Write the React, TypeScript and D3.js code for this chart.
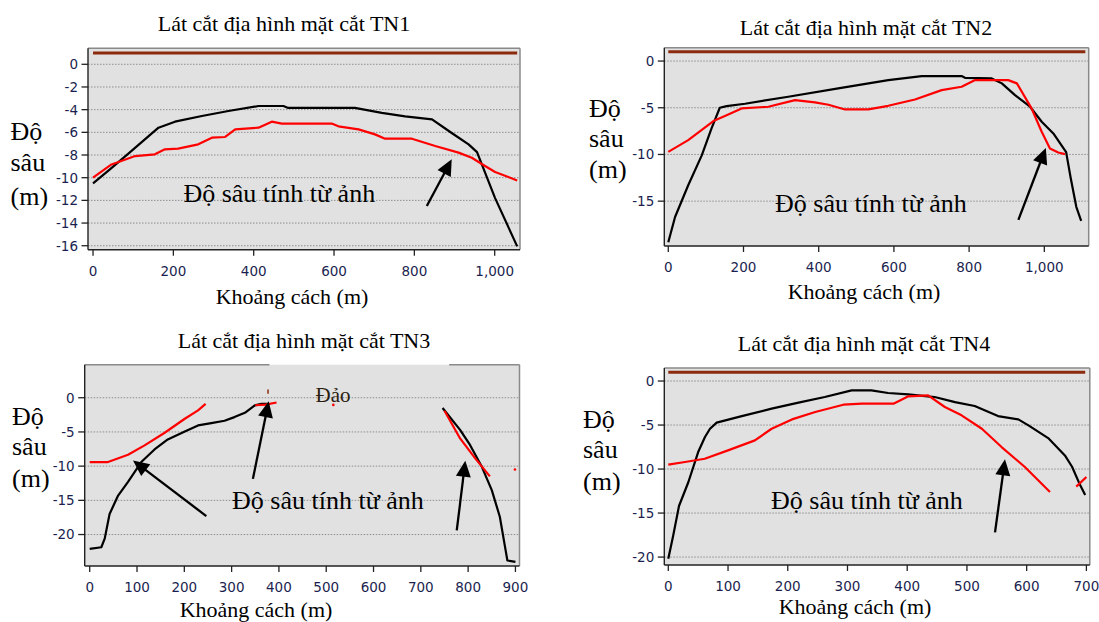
import React from 'react';
import * as d3 from 'd3';

type P = [number, number];

// ---------- TN1 ----------
const tn1XTicks = [0, 200, 400, 600, 800, 1000];
const tn1YTicks = [0, -2, -4, -6, -8, -10, -12, -14, -16];
const tn1Measured: P[] = [[0,-10.5],[42,-9.27],[88,-7.88],[163,-5.59],[204,-5.06],[271,-4.56],[337,-4.12],[412,-3.68],[474,-3.68],[486,-3.85],[652,-3.85],[719,-4.29],[777,-4.59],[844,-4.85],[893,-6.06],[935,-7.06],[956,-7.75],[1001,-11.8],[1056,-16.06]];
const tn1Image: P[] = [[0,-10.0],[46,-8.83],[105,-8.09],[154,-7.94],[179,-7.5],[212,-7.44],[262,-7.06],[296,-6.47],[329,-6.41],[354,-5.74],[412,-5.59],[445,-5.06],[470,-5.23],[594,-5.23],[611,-5.47],[661,-5.74],[702,-6.18],[727,-6.56],[794,-6.56],[852,-7.2],[910,-7.79],[943,-8.24],[976,-8.97],[1001,-9.5],[1056,-10.24]];
const tn1Surface: P[] = [[0, 1], [1056, 1]];
const tn1Arrows: [P, P][] = [[[831, -12.5], [893, -8.38]]];

// ---------- TN2 ----------
const tn2XTicks = [0, 200, 400, 600, 800, 1000];
const tn2YTicks = [0, -5, -10, -15];
const tn2Measured: P[] = [[0,-19.4],[18,-16.7],[53,-13.3],[89,-10.1],[115,-7.2],[137,-5.0],[155,-4.82],[204,-4.57],[319,-3.82],[452,-2.93],[585,-2.04],[674,-1.61],[780,-1.61],[789,-1.79],[860,-1.86],[887,-2.39],[922,-3.64],[962,-4.89],[993,-6.5],[1024,-7.75],[1058,-9.75],[1070,-12.5],[1085,-15.6],[1098,-17.1]];
const tn2Image: P[] = [[0,-9.72],[53,-8.47],[120,-6.43],[155,-5.79],[195,-5.07],[266,-4.89],[337,-4.18],[390,-4.43],[426,-4.68],[470,-5.18],[532,-5.18],[585,-4.79],[656,-4.11],[727,-3.11],[780,-2.75],[816,-2.04],[904,-2.04],[927,-2.39],[966,-5.07],[993,-7.57],[1015,-9.36],[1037,-9.79],[1055,-9.97]];
const tn2Surface: P[] = [[0, 1], [1109, 1]];
const tn2Arrows: [P, P][] = [[[931, -17.0], [1004, -9.3]]];

// ---------- TN3 ----------
const tn3XTicks = [0, 100, 200, 300, 400, 500, 600, 700, 800, 900];
const tn3YTicks = [0, -5, -10, -15, -20];
const tn3MeasuredLeft: P[] = [[0,-22.1],[24.5,-21.86],[31.7,-20.6],[42,-17.0],[60,-14.3],[81,-12.3],[109,-9.4],[137,-7.56],[165,-6.1],[201,-4.92],[229,-4.05],[257,-3.7],[285,-3.37],[306,-2.83],[328,-2.2],[349,-1.12],[363,-0.9],[378,-0.9]];
const tn3MeasuredRight: P[] = [[746,-1.5],[783,-4.7],[804,-6.9],[829,-10.1],[850,-13.5],[867,-17.4],[878,-21.8],[883,-23.8],[900,-24]];
const tn3ImageLeft: P[] = [[0,-9.4],[38.7,-9.4],[81,-8.34],[116,-6.97],[158.5,-5.12],[201,-3.07],[229,-1.85],[245,-0.9]];
const tn3ImageMid: P[] = [[350,-1.1],[372,-1.0],[395,-0.7]];
const tn3ImageRight: P[] = [[750,-1.9],[783,-5.95],[815,-8.87],[846,-11.5]];
const tn3ImageDots: P[] = [[515,-1.05],[899,-10.5]];
const tn3BrownMark: P[] = [[377,0.6],[377,1.2]];
const tn3Island: [number, number] = [380, 760];
const tn3Arrows: [P, P][] = [[[246.5, -17.3], [91.5, -9.17]], [[345, -11.86], [378.4, -0.53]], [[776, -19.4], [794, -9.2]]];

// ---------- TN4 ----------
const tn4XTicks = [0, 100, 200, 300, 400, 500, 600, 700];
const tn4YTicks = [0, -5, -10, -15, -20];
const tn4Measured: P[] = [[0,-20.2],[8.4,-17.5],[17.9,-14.2],[33.5,-11.5],[50,-8.07],[61.4,-6.36],[69.8,-5.42],[81,-4.73],[123,-3.98],[173,-3.14],[218,-2.46],[262,-1.82],[307,-1.06],[340,-1.06],[368,-1.36],[402,-1.52],[446,-1.82],[480,-2.39],[513,-2.84],[552,-3.98],[586,-4.36],[603,-5.04],[636,-6.48],[664,-8.45],[676,-9.74],[688,-11.6],[698,-12.95]];
const tn4Image: P[] = [[0,-9.5],[28,-9.2],[61,-8.83],[100,-7.88],[145,-6.74],[173,-5.42],[207,-4.36],[246,-3.52],[293,-2.69],[324,-2.57],[377,-2.57],[402,-1.74],[435,-1.63],[463,-2.95],[491,-3.9],[525,-5.42],[558,-7.5],[597,-9.77],[639,-12.6]];
const tn4ImageTail: P[] = [[683,-12.0],[700,-10.9]];
const tn4Surface: P[] = [[0, 1], [698, 1]];
const tn4Arrows: [P, P][] = [[[547, -17.2], [563.7, -8.9]]];

const annotationText = 'Độ sâu tính từ ảnh';
const xAxisTitle = 'Khoảng cách (m)';
const yAxisTitle = ['Độ', 'sâu', '(m)'];
const islandLabel = 'Đảo';

const SERIF = '"Liberation Serif", "Times New Roman", serif';
const SANS = '"DejaVu Sans", Verdana, sans-serif';

interface Cfg {
  title: string;
  titlePos: [number, number];
  rect: { l: number; r: number; t: number; b: number };
  xDomain: [number, number];
  yDomain: [number, number];
  xTicks: number[];
  yTicks: number[];
  black: P[][];
  red: P[][];
  dots?: P[];
  brown?: P[][];
  surface?: P[];
  arrows: [P, P][];
  annot: P;
  yLabel: { x: number; ys: number[] };
  xLabel: [number, number];
  island?: [number, number];
  islandText?: P;
}

const panels: Cfg[] = [
  {
    title: 'Lát cắt địa hình mặt cắt TN1', titlePos: [284, 30.5],
    rect: { l: 88, r: 520, t: 48.3, b: 249.7 }, xDomain: [-12.5, 1063], yDomain: [1.41, -16.35],
    xTicks: tn1XTicks, yTicks: tn1YTicks, black: [tn1Measured], red: [tn1Image], surface: tn1Surface,
    arrows: tn1Arrows, annot: [225, -12.1], yLabel: { x: 10.5, ys: [140, 171, 205] }, xLabel: [292, 304],
  },
  {
    title: 'Lát cắt địa hình mặt cắt TN2', titlePos: [866, 35],
    rect: { l: 664.3, r: 1088.7, t: 47.7, b: 246 }, xDomain: [-10.6, 1118], yDomain: [1.43, -19.8],
    xTicks: tn2XTicks, yTicks: tn2YTicks, black: [tn2Measured], red: [tn2Image], surface: tn2Surface,
    arrows: tn2Arrows, annot: [284, -16.15], yLabel: { x: 589, ys: [117, 147, 178] }, xLabel: [864, 299],
  },
  {
    title: 'Lát cắt địa hình mặt cắt TN3', titlePos: [304, 348],
    rect: { l: 84.7, r: 519.5, t: 364.7, b: 566 }, xDomain: [-10.6, 908.6], yDomain: [4.83, -24.6],
    xTicks: tn3XTicks, yTicks: tn3YTicks, black: [tn3MeasuredLeft, tn3MeasuredRight],
    red: [tn3ImageLeft, tn3ImageMid, tn3ImageRight], dots: tn3ImageDots, brown: [tn3BrownMark],
    arrows: tn3Arrows, annot: [301, -16.25], yLabel: { x: 12, ys: [425, 455, 487] }, xLabel: [256, 617],
    island: tn3Island, islandText: [514.5, -0.6],
  },
  {
    title: 'Lát cắt địa hình mặt cắt TN4', titlePos: [864, 350.5],
    rect: { l: 664.3, r: 1089.8, t: 368, b: 565 }, xDomain: [-6.7, 705.7], yDomain: [1.48, -20.9],
    xTicks: tn4XTicks, yTicks: tn4YTicks, black: [tn4Measured], red: [tn4Image, tn4ImageTail], surface: tn4Surface,
    arrows: tn4Arrows, annot: [172, -14.5], yLabel: { x: 583, ys: [428, 458, 490] }, xLabel: [855, 614],
  },
];

const fmt = d3.format(',');

function Arrow({ from, to }: { from: [number, number]; to: [number, number] }) {
  const dx = to[0] - from[0];
  const dy = to[1] - from[1];
  const len = Math.hypot(dx, dy);
  const ux = dx / len, uy = dy / len;
  const hl = 16, hw = 7.5;
  const bx = to[0] - ux * hl, by = to[1] - uy * hl;
  const head = `${to[0]},${to[1]} ${bx - uy * hw},${by + ux * hw} ${bx + uy * hw},${by - ux * hw}`;
  return (
    <g>
      <line x1={from[0]} y1={from[1]} x2={bx + ux * 2} y2={by + uy * 2} stroke="#000" strokeWidth={2.3} />
      <polygon points={head} fill="#000" />
    </g>
  );
}

function Panel({ cfg }: { cfg: Cfg }) {
  const { rect } = cfg;
  const x = d3.scaleLinear().domain(cfg.xDomain).range([rect.l, rect.r]);
  const y = d3.scaleLinear().domain(cfg.yDomain).range([rect.t, rect.b]);
  const line = d3.line<P>().x((d) => x(d[0])).y((d) => y(d[1]));
  const tickColor = '#1b1f4f';
  return (
    <g>
      <rect x={rect.l} y={rect.t} width={rect.r - rect.l} height={rect.b - rect.t} fill="#e1e1e1" />
      {cfg.yTicks.map((t) => (
        <line key={'g' + t} x1={rect.l} x2={rect.r} y1={y(t)} y2={y(t)} stroke="#8e8e8e" strokeWidth={1} strokeDasharray="1.5,1.5" />
      ))}
      {cfg.island ? (
        <g>
          <line x1={rect.l} x2={x(cfg.island[0])} y1={rect.t} y2={rect.t} stroke="#8a8a8a" strokeWidth={1.5} />
          <line x1={x(cfg.island[1])} x2={rect.r} y1={rect.t} y2={rect.t} stroke="#8a8a8a" strokeWidth={1.5} />
        </g>
      ) : (
        <line x1={rect.l} x2={rect.r} y1={rect.t} y2={rect.t} stroke="#8a8a8a" strokeWidth={1.5} />
      )}
      <line x1={rect.r} x2={rect.r} y1={rect.t} y2={rect.b} stroke="#8a8a8a" strokeWidth={1.5} />
      <line x1={rect.l} x2={rect.l} y1={rect.t} y2={rect.b} stroke="#222" strokeWidth={1.4} />
      <line x1={rect.l} x2={rect.r} y1={rect.b} y2={rect.b} stroke="#222" strokeWidth={1.4} />
      {cfg.yTicks.map((t) => (
        <g key={'y' + t}>
          <line x1={rect.l - 6.5} x2={rect.l} y1={y(t)} y2={y(t)} stroke="#222" strokeWidth={1.3} />
          <text x={rect.l - 10} y={y(t)} dy="0.36em" textAnchor="end" fontFamily={SANS} fontSize={13.5} fill={tickColor}>{t}</text>
        </g>
      ))}
      {cfg.xTicks.map((t) => (
        <g key={'x' + t}>
          <line x1={x(t)} x2={x(t)} y1={rect.b} y2={rect.b + 6} stroke="#222" strokeWidth={1.3} />
          <text x={x(t)} y={rect.b + 26} textAnchor="middle" fontFamily={SANS} fontSize={13.5} fill={tickColor}>{fmt(t)}</text>
        </g>
      ))}
      {cfg.surface && <path d={line(cfg.surface) || ''} fill="none" stroke="#8b2a0c" strokeWidth={3} />}
      {cfg.brown && cfg.brown.map((s, i) => <path key={'b' + i} d={line(s) || ''} fill="none" stroke="#8b2a0c" strokeWidth={1.5} />)}
      {cfg.black.map((s, i) => <path key={'k' + i} d={line(s) || ''} fill="none" stroke="#000" strokeWidth={2.2} strokeLinejoin="round" />)}
      {cfg.red.map((s, i) => <path key={'r' + i} d={line(s) || ''} fill="none" stroke="#ff0000" strokeWidth={2.2} strokeLinejoin="round" />)}
      {cfg.dots && cfg.dots.map((d, i) => <circle key={'d' + i} cx={x(d[0])} cy={y(d[1])} r={1.3} fill="#ff0000" />)}
      {cfg.islandText && (
        <text x={x(cfg.islandText[0])} y={y(cfg.islandText[1])} textAnchor="middle" fontFamily={SERIF} fontSize={21} fill="#2a1c10">{islandLabel}</text>
      )}
      <text x={x(cfg.annot[0])} y={y(cfg.annot[1])} fontFamily={SERIF} fontSize={26} fill="#000">{annotationText}</text>
      {cfg.arrows.map((a, i) => (
        <Arrow key={'a' + i} from={[x(a[0][0]), y(a[0][1])]} to={[x(a[1][0]), y(a[1][1])]} />
      ))}
      <text x={cfg.titlePos[0]} y={cfg.titlePos[1]} textAnchor="middle" fontFamily={SERIF} fontSize={22} fill="#000">{cfg.title}</text>
      {yAxisTitle.map((s, i) => (
        <text key={'yl' + i} x={cfg.yLabel.x} y={cfg.yLabel.ys[i]} fontFamily={SERIF} fontSize={26} fill="#000">{s}</text>
      ))}
      <text x={cfg.xLabel[0]} y={cfg.xLabel[1]} textAnchor="middle" fontFamily={SERIF} fontSize={22} fill="#000">{xAxisTitle}</text>
    </g>
  );
}

export default function App() {
  return (
    <svg width={1099} height={622} style={{ position: 'absolute', left: 0, top: 0, background: '#fff' }}>
      <rect x={0} y={0} width={1099} height={622} fill="#fff" />
      {panels.map((p, i) => <Panel key={i} cfg={p} />)}
    </svg>
  );
}
